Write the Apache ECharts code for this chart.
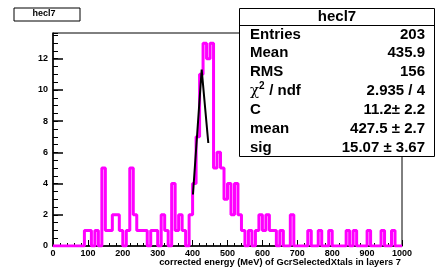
<!DOCTYPE html>
<html lang="en">
<head>
    <meta charset="UTF-8">
    <title>hecl7</title>
    <style type="text/css">
        html, body { margin: 0; padding: 0; background: #fff; }
        #chart { width: 438px; height: 267px; }
    </style>
</head>
<body>
    <div id="chart"></div>
    <script src="https://cdn.jsdelivr.net/npm/echarts@6/dist/echarts.min.js"></script>
    <script type="text/javascript">
        // histogram: 100 bins of 10 MeV, counts
        var binWidth = 10;
        var counts = [
            0, 0, 0, 0, 0, 0, 0, 0, 0, 1,
            1, 0, 1, 0, 5, 1, 1, 2, 2, 1,
            0, 1, 5, 2, 1, 1, 1, 0, 1, 1,
            0, 2, 1, 0, 4, 1, 2, 1, 0, 2,
            4, 7, 11, 13, 12, 13, 5, 6, 5, 3,
            4, 2, 4, 2, 1, 0, 1, 0, 1, 2,
            1, 2, 1, 1, 0, 1, 0, 0, 2, 0,
            0, 0, 0, 1, 0, 0, 1, 0, 0, 1,
            0, 0, 0, 0, 1, 0, 1, 0, 0, 0,
            1, 0, 0, 0, 1, 0, 0, 1, 0, 0
        ];
        // gaus fit line as drawn (x in MeV, y in counts)
        var fitX = [401, 426, 445];
        var fitY = [3.3, 11.3, 6.6];

        var xTicks = [0, 100, 200, 300, 400, 500, 600, 700, 800, 900, 1000];
        var yTicks = [0, 2, 4, 6, 8, 10, 12];

        var statLabels = ['Entries', 'Mean', 'RMS', '', 'C', 'mean', 'sig'];
        var statValues = ['203', '435.9', '156', '2.935 / 4', '11.2\u00b1 2.2', '427.5 \u00b1 2.7', '15.07 \u00b1 3.67'];

        var histData = [];
        for (var i = 0; i < counts.length; i++) {
            histData.push([i * binWidth, counts[i]]);
        }
        histData.push([counts.length * binWidth, counts[counts.length - 1]]);
        var fitData = fitX.map(function (x, i) { return [x, fitY[i]]; });

        var font = 'Liberation Sans, Arial, Helvetica, sans-serif';
        var yMax = 13.65;

        var graphics = [
            // title box
            { type: 'rect', shape: { x: 14, y: 8, width: 66, height: 13 }, style: { fill: '#fff', stroke: '#000', lineWidth: 1 }, z: 10 },
            { type: 'text', z: 11, style: { text: 'hecl7', x: 44, y: 14, align: 'center', verticalAlign: 'middle', font: 'bold 9px ' + font, fill: '#000' } },
            // stats box
            { type: 'rect', shape: { x: 239.5, y: 8.5, width: 195, height: 148 }, style: { fill: '#fff', stroke: '#000', lineWidth: 1 }, z: 10 },
            { type: 'line', shape: { x1: 239.5, y1: 25.5, x2: 434.5, y2: 25.5 }, style: { stroke: '#000', lineWidth: 1 }, z: 11 },
            { type: 'text', z: 11, style: { text: 'hecl7', x: 337, y: 17, align: 'center', verticalAlign: 'middle', font: 'bold 15px ' + font, fill: '#000' } },
            { type: 'text', z: 11, style: { text: '\u03c7', x: 250, y: 91, align: 'left', verticalAlign: 'middle', font: '15px DejaVu Serif, serif', fill: '#000' } },
            { type: 'text', z: 11, style: { text: '2', x: 259, y: 86, align: 'left', verticalAlign: 'middle', font: 'bold 10px ' + font, fill: '#000' } },
            { type: 'text', z: 11, style: { text: ' / ndf', x: 265, y: 91, align: 'left', verticalAlign: 'middle', font: 'bold 15px ' + font, fill: '#000' } },
            // x axis title
            { type: 'text', z: 11, style: { text: 'corrected energy (MeV) of GcrSelectedXtals in layers 7', x: 401, y: 262, align: 'right', verticalAlign: 'middle', font: 'bold 9.3px ' + font, fill: '#000' } }
        ];
        var rowY0 = 34.5, rowStep = 18.85;
        for (var r = 0; r < statLabels.length; r++) {
            if (statLabels[r]) {
                graphics.push({ type: 'text', z: 11, style: { text: statLabels[r], x: 250, y: rowY0 + r * rowStep, align: 'left', verticalAlign: 'middle', font: 'bold 15px ' + font, fill: '#000' } });
            }
            graphics.push({ type: 'text', z: 11, style: { text: statValues[r], x: 425, y: rowY0 + r * rowStep, align: 'right', verticalAlign: 'middle', font: 'bold 15px ' + font, fill: '#000' } });
        }

        var chart = echarts.init(document.getElementById('chart'));
        var option = {
            animation: false,
            backgroundColor: '#fff',
            grid: { left: 53, right: 36, top: 33, bottom: 21, show: true, borderColor: '#000', borderWidth: 1, backgroundColor: 'transparent' },
            xAxis: [
                {
                    type: 'value', min: 0, max: 1000, interval: 100,
                    axisLine: { onZero: false, lineStyle: { color: '#000', width: 1.5 } },
                    axisTick: { inside: true, length: 6, lineStyle: { color: '#000' } },
                    axisLabel: {
                        color: '#000', fontWeight: 'bold', fontSize: 9, fontFamily: font, margin: 3,
                        formatter: function (v) { return xTicks.indexOf(v) >= 0 ? String(v) : ''; }
                    },
                    splitLine: { show: false }
                },
                {
                    type: 'value', min: 0, max: 1000, interval: 20, position: 'bottom',
                    axisLine: { show: false },
                    axisTick: { inside: true, length: 3, lineStyle: { color: '#000' } },
                    axisLabel: { show: false }, splitLine: { show: false }
                }
            ],
            yAxis: [
                {
                    type: 'value', min: 0, max: yMax, interval: 2,
                    axisLine: { show: true, onZero: false, lineStyle: { color: '#000', width: 1.5 } },
                    axisTick: { show: true, inside: true, length: 10, lineStyle: { color: '#000', width: 1.5 } },
                    axisLabel: {
                        color: '#000', fontWeight: 'bold', fontSize: 9, fontFamily: font, margin: 5, showMaxLabel: false,
                        formatter: function (v) { return yTicks.indexOf(v) >= 0 ? String(v) : ''; }
                    },
                    splitLine: { show: false }
                },
                {
                    type: 'value', min: 0, max: yMax, interval: 0.5, position: 'left',
                    axisLine: { show: false },
                    axisTick: { show: true, inside: true, length: 5, lineStyle: { color: '#000' } },
                    axisLabel: { show: false }, splitLine: { show: false }
                }
            ],
            series: [
                {
                    name: 'hecl7', type: 'line', step: 'end', data: histData,
                    showSymbol: false, lineStyle: { color: '#ff00ff', width: 3 },
                    itemStyle: { color: '#ff00ff' }, z: 3
                },
                {
                    name: 'gaus', type: 'line', data: fitData,
                    showSymbol: false, lineStyle: { color: '#000', width: 2 }, z: 4
                }
            ],
            graphic: graphics
        };
        chart.setOption(option);
    </script>
</body>
</html>
